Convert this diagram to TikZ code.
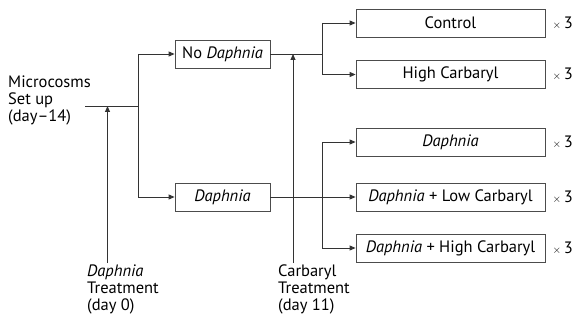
\documentclass[tikz,border=0pt]{standalone}
\usepackage{fontspec}
\setmainfont{PT Sans}
\usetikzlibrary{arrows.meta}
\begin{document}
\begin{tikzpicture}[x=1pt,y=-1pt,
  font=\fontsize{16.5}{17}\selectfont,
  box/.style={draw=black!70, line width=0.8pt, minimum height=28pt, inner sep=0pt},
  lbox/.style={box, minimum width=95pt},
  rbox/.style={box, minimum width=189pt},
  ln/.style={draw=black!80, line width=0.9pt},
  arr/.style={ln, -{Triangle[length=6pt,width=5pt]}},
  txt/.style={align=left, anchor=west, inner sep=0pt},
  times/.style={anchor=west, inner sep=0pt}]
\useasboundingbox (0,0) rectangle (579,321);
% left boxes
\node[lbox] (noD) at (222.5,54) {No \textit{Daphnia}};
\node[lbox] (D) at (222.5,197) {\textit{Daphnia}};
% right boxes
\node[rbox] (ctl) at (450.5,23) {Control};
\node[rbox] (hc) at (450.5,74.5) {High Carbaryl};
\node[rbox] (dd) at (450.5,142) {\textit{Daphnia}};
\node[rbox] (dl) at (450.5,197) {\textit{Daphnia} + Low Carbaryl};
\node[rbox] (dh) at (450.5,248) {\textit{Daphnia} + High Carbaryl};
\foreach \n in {ctl,hc,dd,dl,dh}{\node[times] (x\n) at ([xshift=7pt]\n.east) {{\fontsize{11}{11}\selectfont$\times$}\,3};}
% texts
\node[txt] (micro) at (8,100) {Microcosms\\Set up\\(day--14)};
\node[txt, anchor=north west] (dtr) at (87,265) {\textit{Daphnia}\\Treatment\\(day 0)};
\node[txt, anchor=north west] (ctr) at (278,265) {Carbaryl\\Treatment\\(day 11)};
% coordinates
\coordinate (r0) at (85,106);
\coordinate (r1) at (138,106);
\coordinate (rt) at (138,54);
\coordinate (rb) at (138,197);
\coordinate (a1) at (322,54);
\coordinate (a1t) at (322,23);
\coordinate (a1b) at (322,74.5);
\coordinate (a2t) at (322,142);
\coordinate (a2b) at (322,248);
\coordinate (dtb) at (107.5,263);
\coordinate (dtt) at (107.5,106);
\coordinate (ctb) at (293,263);
\coordinate (ctt) at (293,54);
% connectors
\draw[ln] (r0) -- (r1);
\draw[ln] (rt) -- (rb);
\draw[arr] (rt) -- (noD.west);
\draw[arr] (rb) -- (D.west);
\draw[arr] (dtb) -- (dtt);
\draw[ln] (noD.east) -- (a1);
\draw[ln] (a1t) -- (a1b);
\draw[arr] (a1t) -- (ctl.west);
\draw[arr] (a1b) -- (hc.west);
\draw[arr] (D.east) -- (dl.west);
\draw[ln] (a2t) -- (a2b);
\draw[arr] (a2t) -- (dd.west);
\draw[arr] (a2b) -- (dh.west);
\draw[arr] (ctb) -- (ctt);
\end{tikzpicture}
\end{document}
